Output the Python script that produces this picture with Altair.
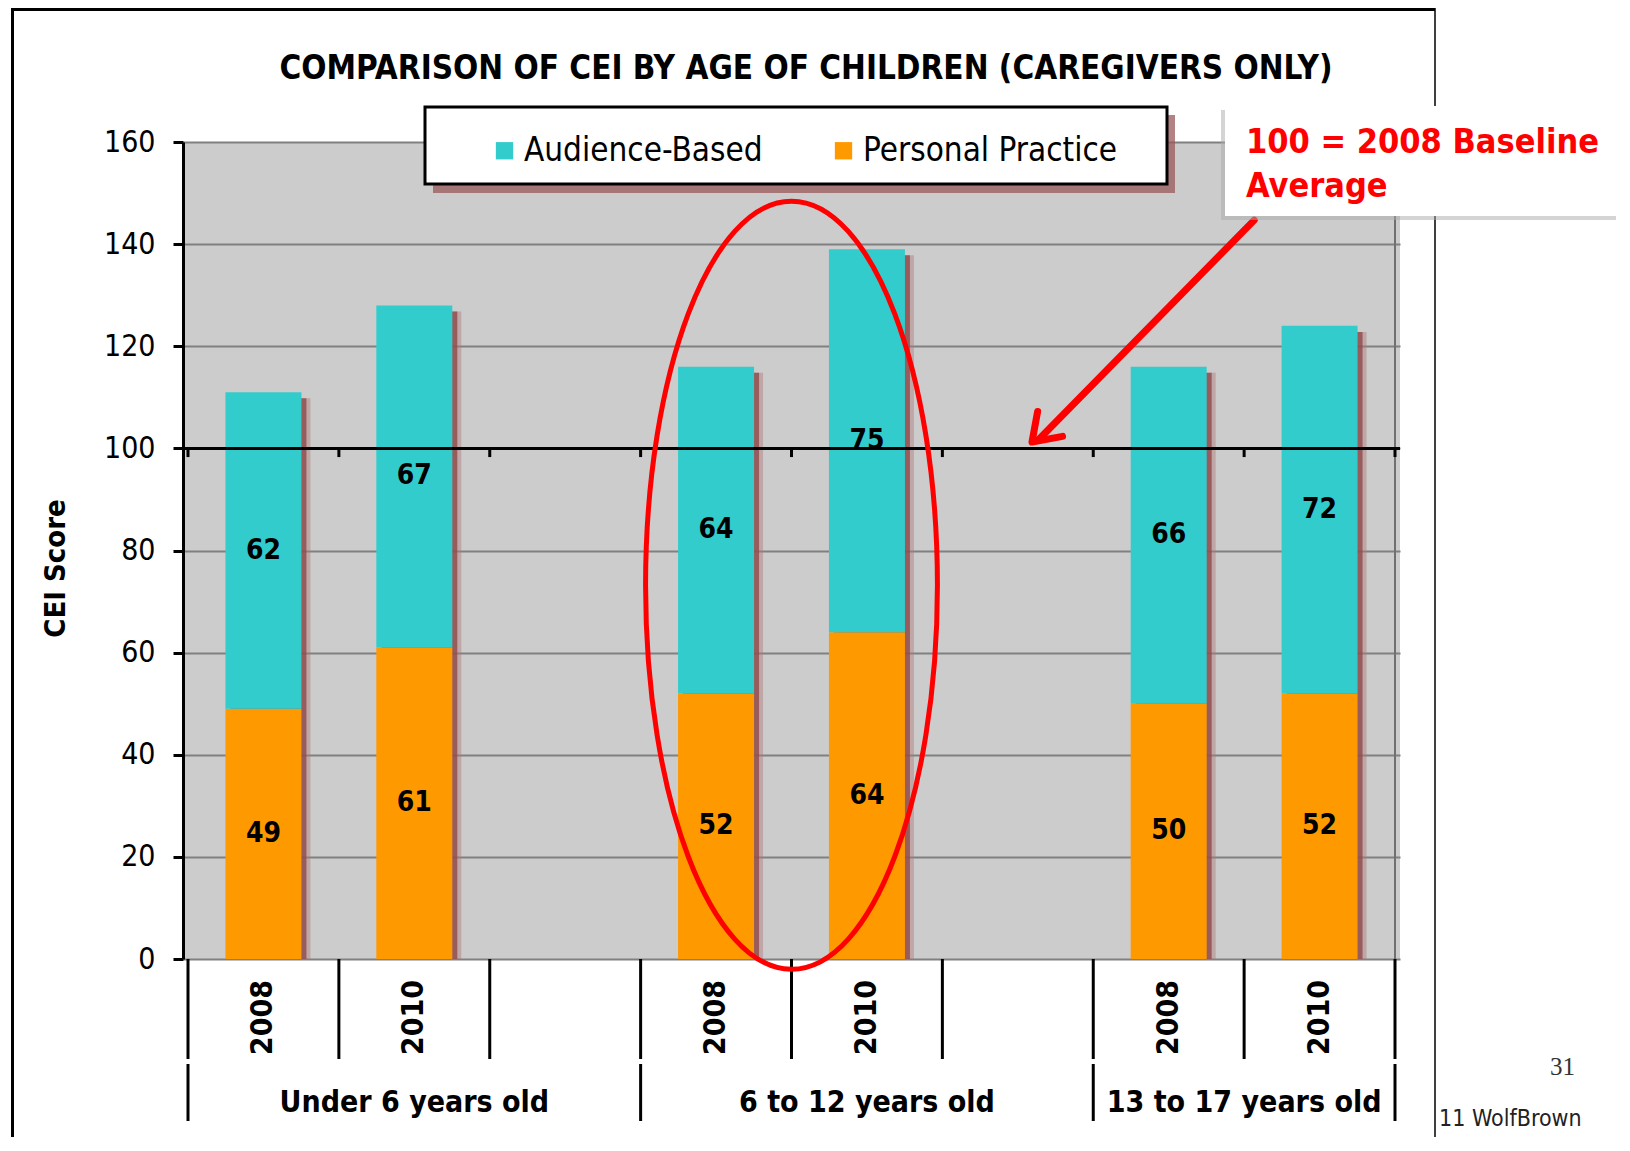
import altair as alt
import pandas as pd

# ---------------- data ----------------
slot_pos = [0.5, 1.5, 3.5, 4.5, 6.5, 7.5]
years = ["2008", "2010", "2008", "2010", "2008", "2010"]
age_groups = ["Under 6 years old", "6 to 12 years old", "13 to 17 years old"]
group_centers = [1.5, 4.5, 7.0]
audience_based = [62, 67, 64, 75, 66, 72]
personal_practice = [49, 61, 52, 64, 50, 52]
series = ["Audience-Based", "Personal Practice"]
series_colors = ["#33CCCC", "#FF9900"]
y_ticks = [0, 20, 40, 60, 80, 100, 120, 140, 160]
slot_edges = [0, 1, 2, 3, 4, 5, 6, 7, 8]
group_edges = [0, 3, 6, 8]
baseline_value = [100]
title_text = "COMPARISON OF CEI BY AGE OF CHILDREN (CAREGIVERS ONLY)"
note_lines = ["100 = 2008 Baseline", "Average"]

rows = []
for i, s in enumerate(slot_pos):
    rows.append(dict(slot=s, year=years[i], series="Personal Practice",
                     value=personal_practice[i], ord=0))
    rows.append(dict(slot=s, year=years[i], series="Audience-Based",
                     value=audience_based[i], ord=1))
df = pd.DataFrame(rows)

W, H = 1217, 817
F = "DejaVu Sans Condensed, Liberation Sans, sans-serif"

xs = alt.Scale(domain=[0, 8], nice=False, zero=False)
ys = alt.Scale(domain=[0, 160], nice=False)
one = pd.DataFrame({"d": [0]})

y_axis = alt.Axis(values=y_ticks, grid=True, gridColor="#808080", gridWidth=2,
                  domainColor="black", domainWidth=3, tickColor="black",
                  tickWidth=3, tickSize=10, labelFont=F, labelFontSize=30,
                  labelColor="black", labelPadding=18, title="CEI Score",
                  titleFont=F, titleFontSize=29, titleFontWeight="bold",
                  titleColor="black", titleX=-128, titleY=426, titleAngle=270,
                  titleAlign="center", titleBaseline="middle")

base = alt.Chart(df)
stacked = base.transform_stack(stack="value", groupby=["slot"], as_=["y0", "y1"],
                               sort=[alt.SortField("ord", order="ascending")])

# frame of slide
frame_top = alt.Chart(one).mark_rect(color="black").encode(
    x=alt.value(-172), x2=alt.value(1252), y=alt.value(-134), y2=alt.value(-131))
frame_left = alt.Chart(one).mark_rect(color="black").encode(
    x=alt.value(-172), x2=alt.value(-169), y=alt.value(-134), y2=alt.value(1000))
frame_right = alt.Chart(one).mark_rule(color="black", strokeWidth=1.5).encode(
    x=alt.value(1252), y=alt.value(-134), y2=alt.value(1000))

# totals for shadows
totals = base.transform_aggregate(total="sum(value)", groupby=["slot"]) \
    .transform_calculate(top="datum.total - 1.2")
shadow2 = totals.mark_bar(width=76, xOffset=9, color="#B07A7A", opacity=0.45).encode(
    x=alt.X("slot:Q", scale=xs, axis=None),
    y=alt.Y("top:Q", scale=ys, axis=y_axis), y2=alt.datum(0))
shadow1 = totals.mark_bar(width=76, xOffset=5, color="#8E4A4A", opacity=0.8).encode(
    x=alt.X("slot:Q", scale=xs, axis=None),
    y=alt.Y("top:Q", scale=ys), y2=alt.datum(0))

bars = stacked.mark_bar(width=76, opacity=1).encode(
    x=alt.X("slot:Q", scale=xs, axis=None),
    y=alt.Y("y0:Q", scale=ys),
    y2="y1:Q",
    color=alt.Color("series:N", scale=alt.Scale(domain=series, range=series_colors),
                    legend=alt.Legend(orient="none", legendX=305, legendY=-8,
                                      direction="horizontal", title=None,
                                      symbolType="square", symbolSize=300,
                                      symbolStrokeWidth=0, symbolOpacity=1,
                                      labelFont=F, labelFontSize=33,
                                      labelLimit=500,
                                      labelColor="black", labelOffset=3,
                                      columnPadding=64, padding=0)))

labels = stacked.transform_calculate(mid="(datum.y0 + datum.y1) / 2").mark_text(
    font=F, fontSize=28, fontWeight="bold", color="black", baseline="middle").encode(
    x=alt.X("slot:Q", scale=xs), y=alt.Y("mid:Q", scale=ys), text="value:Q")

right_edge = alt.Chart(pd.DataFrame({"e": [8]})).mark_rule(
    color="#707070", strokeWidth=2).encode(
    x=alt.X("e:Q", scale=xs), y=alt.datum(0), y2=alt.datum(160))

base_line = alt.Chart(pd.DataFrame({"y": baseline_value})).mark_rule(
    color="black", strokeWidth=3).encode(y=alt.Y("y:Q", scale=ys))
base_ticks = alt.Chart(pd.DataFrame({"e": slot_edges})).mark_rule(
    color="black", strokeWidth=3).encode(
    x=alt.X("e:Q", scale=xs), y=alt.datum(100), y2=alt.datum(98.3))

year_df = pd.DataFrame({"slot": slot_pos, "year": years})
year_labels = alt.Chart(year_df).mark_text(
    font=F, fontSize=30, fontWeight="bold", color="black", angle=270,
    align="right", baseline="middle").encode(
    x=alt.X("slot:Q", scale=xs), y=alt.value(838), text="year:N")

year_div = alt.Chart(pd.DataFrame({"e": slot_edges})).mark_rule(
    color="black", strokeWidth=3).encode(
    x=alt.X("e:Q", scale=xs), y=alt.value(817), y2=alt.value(917))
group_div = alt.Chart(pd.DataFrame({"e": group_edges})).mark_rule(
    color="black", strokeWidth=3).encode(
    x=alt.X("e:Q", scale=xs), y=alt.value(922), y2=alt.value(979))
group_labels = alt.Chart(pd.DataFrame({"c": group_centers, "g": age_groups})).mark_text(
    font=F, fontSize=30, fontWeight="bold", color="black", align="center",
    baseline="alphabetic").encode(
    x=alt.X("c:Q", scale=xs), y=alt.value(970), text="g:N")

# legend frame
legend_shadow = alt.Chart(one).mark_rect(color="#9A5A5A", opacity=0.75).encode(
    x=alt.value(250), x2=alt.value(992), y=alt.value(-27), y2=alt.value(51))
legend_box = alt.Chart(one).mark_rect(fill="white", stroke="black", strokeWidth=3).encode(
    x=alt.value(242), x2=alt.value(984), y=alt.value(-35), y2=alt.value(42))

title = alt.Chart(pd.DataFrame({"t": [title_text]})).mark_text(
    font=F, fontSize=33, fontWeight="bold", color="black", align="center",
    baseline="alphabetic").encode(x=alt.value(623), y=alt.value(-63), text="t:N")

# highlight ellipse and arrow
ellipse = alt.Chart(pd.DataFrame({"x": [4.0], "y": [73.2]})).mark_point(
    shape="M -0.38,0 A 0.38,1 0 1,1 0.38,0 A 0.38,1 0 1,1 -0.38,0 Z",
    size=589824, filled=False, color="#FF0000", strokeWidth=5, opacity=1).encode(
    x=alt.X("x:Q", scale=xs), y=alt.Y("y:Q", scale=ys))

arrow_line = alt.Chart(pd.DataFrame({"x": [7.067], "y": [144.7],
                                     "x2": [5.64], "y2": [101.8]})).mark_rule(
    color="#FF0000", strokeWidth=7, strokeCap="round").encode(
    x=alt.X("x:Q", scale=xs), y=alt.Y("y:Q", scale=ys), x2="x2:Q", y2="y2:Q")
arrow_head = alt.Chart(pd.DataFrame({"x": [5.594], "y": [101.25]})).mark_point(
    shape="M -0.55,0.8 L 0,0 L 0.55,0.8", size=4096, angle=225, filled=False,
    color="#FF0000", strokeWidth=7, strokeCap="round", strokeJoin="round",
    opacity=1).encode(x=alt.X("x:Q", scale=xs), y=alt.Y("y:Q", scale=ys))

note_shadow = alt.Chart(one).mark_rect(color="#AAAAAA", opacity=0.5).encode(
    x=alt.value(1038), x2=alt.value(1433), y=alt.value(-32), y2=alt.value(78))
note_box = alt.Chart(one).mark_rect(fill="white").encode(
    x=alt.value(1042), x2=alt.value(1437), y=alt.value(-36), y2=alt.value(74))
note_text = alt.Chart(pd.DataFrame({"t": note_lines, "yy": [11, 55]})).mark_text(
    font=F, fontSize=34, fontWeight="bold", color="#FF0000", align="left",
    baseline="alphabetic").encode(x=alt.value(1063), y=alt.Y("yy:Q", scale=None),
                                  text="t:N")

page_num = alt.Chart(pd.DataFrame({"t": ["31"]})).mark_text(
    font="Liberation Serif", fontSize=25, color="#333333", align="left").encode(
    x=alt.value(1367), y=alt.value(925), text="t:N")
footer = alt.Chart(pd.DataFrame({"t": ["11 WolfBrown"]})).mark_text(
    font=F, fontSize=23, color="#222222", align="left",
    baseline="alphabetic").encode(
    x=alt.value(1256), y=alt.value(984), text="t:N")

chart = alt.layer(
    frame_top, frame_left, frame_right,
    shadow2, shadow1, bars, labels, right_edge, base_line, base_ticks,
    year_labels, year_div, group_div, group_labels,
    legend_shadow, legend_box, title, ellipse, arrow_line, arrow_head,
    note_shadow, note_box, note_text, page_num, footer
).properties(
    width=W, height=H,
    autosize=alt.AutoSizeParams(type="none"),
    padding={"left": 175, "top": 134, "right": 222, "bottom": 178},
    background="white"
).configure_view(fill="#CCCCCC", stroke=None)

chart.save("out.html", embed_options={"renderer": "svg", "actions": False})
